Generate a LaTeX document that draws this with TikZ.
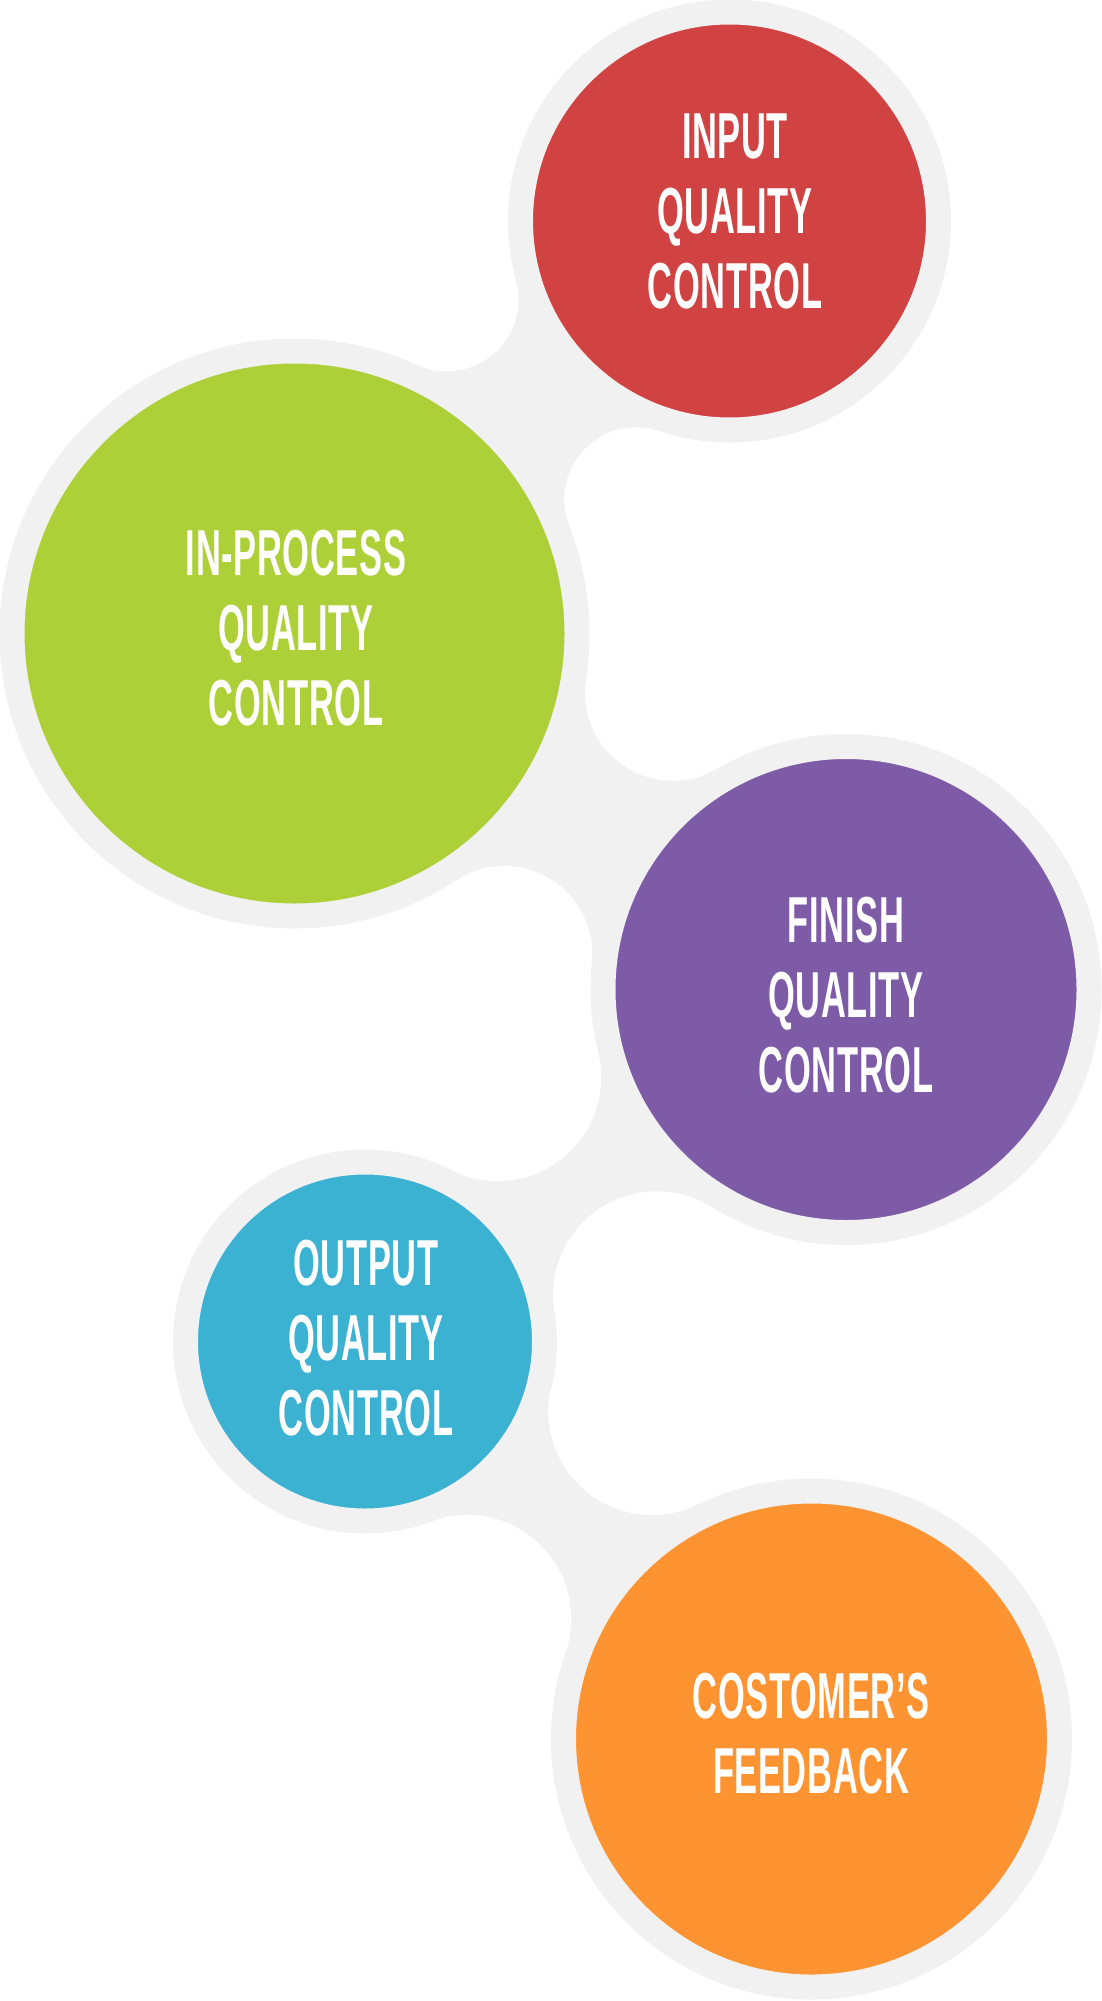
\documentclass[tikz,border=0pt]{standalone}
\usepackage{fontspec}
\newfontfamily\stagefont{Liberation Sans}[FakeStretch=0.53, LetterSpace=1]
\usepackage{tikz}
\usetikzlibrary{
    positioning,
    intersections,
    backgrounds,
}
\definecolor{ringgrey}{HTML}{F1F1F1}
\definecolor{inputred}{HTML}{D14343}
\definecolor{processgreen}{HTML}{ADD038}
\definecolor{finishpurple}{HTML}{7E5BA6}
\definecolor{outputblue}{HTML}{3CB2D3}
\definecolor{feedbackorange}{HTML}{FE9331}
\tikzset{
    % Stage circles with grey ring
    stage/.style={circle, draw=ringgrey, line width=25pt, inner sep=0pt, outer sep=0pt},
    % Stage captions
    caption/.style={align=center, text=white, inner sep=0pt,
                    font=\stagefont\bfseries\fontsize{65}{75}\selectfont},
    % Grey neck between two stages
    neck/.style={fill=ringgrey},
    notch/.style={fill=white},
}

\begin{document}
\begin{tikzpicture}[x=1pt, y=-1pt]
    \useasboundingbox (0,0) rectangle (1102,2001);

    % Stages
    \node[stage, fill=inputred, minimum size=418pt] (input) at (729.5, 221) {};
    \node[stage, fill=processgreen, minimum size=565pt] (inproc) at (294.5, 633.5) {};
    \node[stage, fill=finishpurple, minimum size=486pt] (finish) at (846, 989.5) {};
    \node[stage, fill=outputblue, minimum size=359pt] (output) at (365, 1341.5) {};
    \node[stage, fill=feedbackorange, minimum size=496pt] (feedback) at (811.5, 1739) {};

    % Captions
    \node[caption] (inputtext) at (735, 211) {INPUT\\QUALITY\\CONTROL};
    \node[caption] (inproctext) at (296, 628) {IN-PROCESS\\QUALITY\\CONTROL};
    \node[caption] (finishtext) at (846, 995) {FINISH\\QUALITY\\CONTROL};
    \node[caption] (outputtext) at (366, 1338) {OUTPUT\\QUALITY\\CONTROL};
    \node[caption] (feedbacktext) at (811, 1734) {COSTOMER’S\\FEEDBACK};

    \begin{scope}[on background layer]
        \fill[white] (0,0) rectangle (1102,2001);

        % Input -> In-process
        \path[name path=ia] (input.center) circle[radius=293.5pt];
        \path[name path=ib] (inproc.center) circle[radius=367pt];
        \path[name intersections={of=ia and ib, by={i1,i2}}];
        \fill[neck] (input.center) -- (i1) -- (inproc.center) -- (i2) -- cycle;
        \fill[notch] (i1) circle[radius=72pt] (i2) circle[radius=72pt];

        % In-process -> Finish
        \path[name path=pa] (inproc.center) circle[radius=383pt];
        \path[name path=pb] (finish.center) circle[radius=343.5pt];
        \path[name intersections={of=pa and pb, by={p1,p2}}];
        \fill[neck] (inproc.center) -- (p1) -- (finish.center) -- (p2) -- cycle;
        \fill[notch] (p1) circle[radius=88pt] (p2) circle[radius=88pt];

        % Finish -> Output
        \path[name path=fa] (finish.center) circle[radius=359.5pt];
        \path[name path=fb] (output.center) circle[radius=295.5pt];
        \path[name intersections={of=fa and fb, by={f1,f2}}];
        \fill[neck] (finish.center) -- (f1) -- (output.center) -- (f2) -- cycle;
        \fill[notch] (f1) circle[radius=104pt] (f2) circle[radius=104pt];

        % Output -> Feedback
        \path[name path=oa] (output.center) circle[radius=295.5pt];
        \path[name path=ob] (feedback.center) circle[radius=364.5pt];
        \path[name intersections={of=oa and ob, by={o1,o2}}];
        \fill[neck] (output.center) -- (o1) -- (feedback.center) -- (o2) -- cycle;
        \fill[notch] (o1) circle[radius=104pt] (o2) circle[radius=104pt];
    \end{scope}
\end{tikzpicture}
\end{document}
